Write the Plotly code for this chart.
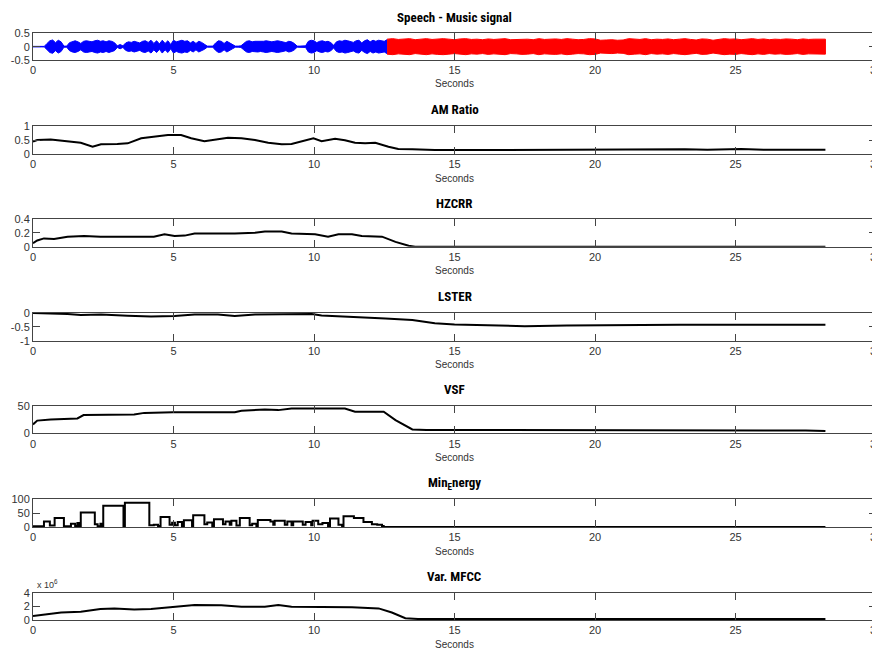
import plotly.graph_objects as go

# ---------------- data ----------------
# Speech part (blue): amplitude envelope sampled every 0.1 s from 0.0 s
speech_t0 = 0.0
speech_dt = 0.1
speech_env = [0.01, 0.01, 0.01, 0.01, 0.01,
              0.12, 0.22, 0.25, 0.15, 0.24, 0.18,
              0.02, 0.02,
              0.15, 0.20, 0.22, 0.18, 0.12, 0.20, 0.22, 0.20, 0.18, 0.22, 0.24, 0.20, 0.22, 0.18, 0.22, 0.20, 0.15,
              0.03, 0.08, 0.03,
              0.14, 0.18, 0.16, 0.20, 0.18, 0.14, 0.20, 0.22, 0.16, 0.24, 0.12, 0.22, 0.10, 0.24, 0.12, 0.22, 0.08,
              0.24, 0.18, 0.22, 0.24, 0.20, 0.22, 0.14, 0.20, 0.12, 0.20, 0.16, 0.10,
              0.02, 0.02, 0.02,
              0.14, 0.22, 0.20, 0.12, 0.20, 0.15, 0.08,
              0.02, 0.02, 0.03,
              0.12, 0.20, 0.22, 0.18, 0.20, 0.20, 0.18, 0.20, 0.22, 0.20, 0.18, 0.20, 0.22, 0.20, 0.18, 0.15, 0.20, 0.18, 0.12,
              0.02, 0.02, 0.02, 0.03,
              0.20, 0.24, 0.22, 0.15, 0.20, 0.22, 0.18, 0.20, 0.15, 0.05, 0.18, 0.22, 0.20, 0.24, 0.22, 0.20, 0.16,
              0.22, 0.24, 0.14, 0.22, 0.26, 0.18, 0.24, 0.20, 0.24, 0.22, 0.20, 0.26]

# Music part (red): amplitude envelope sampled every 0.2 s from 12.6 s
music_t0 = 12.6
music_dt = 0.2
music_env = [0.28, 0.30, 0.27, 0.29, 0.30, 0.26, 0.28, 0.30, 0.27, 0.29,
             0.30, 0.28, 0.26, 0.29, 0.30, 0.27, 0.28, 0.26, 0.29, 0.27,
             0.28, 0.30, 0.26, 0.27, 0.29, 0.28, 0.26, 0.30, 0.27, 0.28,
             0.29, 0.27, 0.30, 0.28, 0.26, 0.27, 0.30, 0.29, 0.24, 0.25,
             0.26, 0.24, 0.25, 0.30, 0.28, 0.27, 0.30, 0.26, 0.28, 0.27,
             0.29, 0.26, 0.28, 0.30, 0.27, 0.25, 0.29, 0.28, 0.24, 0.26,
             0.30, 0.28, 0.29, 0.26, 0.28, 0.30, 0.27, 0.29, 0.26, 0.28,
             0.27, 0.29, 0.28, 0.26, 0.29, 0.27, 0.28, 0.27, 0.28]

am_t = [0, 0.15, 0.63, 1.23, 1.7, 2.12, 2.42, 3.0, 3.37, 3.85, 4.32, 4.8, 5.27, 5.63, 6.1, 6.46,
        6.94, 7.42, 7.9, 8.37, 8.85, 9.2, 9.56, 9.98, 10.27, 10.75, 11.1, 11.46, 11.82, 12.18,
        12.65, 13.0, 13.5, 14.3, 16.0, 18.0, 19.5, 21.0, 22.5, 23.2, 24.0, 25.2, 26.0, 27.0, 28.2]
am_v = [0.44, 0.50, 0.52, 0.44, 0.40, 0.26, 0.35, 0.36, 0.38, 0.56, 0.62, 0.68, 0.68, 0.56, 0.46, 0.51,
        0.58, 0.56, 0.50, 0.40, 0.35, 0.36, 0.46, 0.56, 0.46, 0.54, 0.49, 0.40, 0.38, 0.40,
        0.26, 0.18, 0.17, 0.14, 0.14, 0.15, 0.14, 0.15, 0.15, 0.17, 0.15, 0.18, 0.15, 0.15, 0.15]

hz_t = [0, 0.15, 0.39, 0.75, 1.23, 1.82, 2.4, 4.3, 4.68, 5.04, 5.4, 5.75, 7.18, 7.9, 8.25, 8.85,
        9.2, 10.04, 10.5, 10.87, 11.35, 11.7, 12.42, 12.9, 13.37, 13.6, 28.2]
hz_v = [0.05, 0.09, 0.12, 0.11, 0.145, 0.155, 0.145, 0.145, 0.18, 0.155, 0.16, 0.19, 0.19, 0.20, 0.22, 0.22,
        0.19, 0.18, 0.145, 0.18, 0.18, 0.155, 0.145, 0.07, 0.015, 0.0, 0.0]

lster_t = [0, 0.5, 1.23, 1.7, 2.42, 3.37, 4.2, 5.04, 5.75, 6.58, 7.18, 7.9, 8.96, 9.92, 10.27,
           11.35, 12.54, 13.5, 14.3, 15.0, 16.0, 17.5, 19.0, 20.5, 23.0, 26.0, 28.2]
lster_v = [-0.01, -0.02, -0.05, -0.08, -0.06, -0.11, -0.14, -0.12, -0.06, -0.06, -0.12, -0.06, -0.05, -0.05, -0.10,
           -0.14, -0.21, -0.26, -0.38, -0.42, -0.45, -0.48, -0.46, -0.44, -0.43, -0.43, -0.43]

vsf_t = [0, 0.15, 0.63, 1.58, 1.8, 3.6, 3.96, 4.98, 7.18, 7.42, 8.25, 8.73, 9.2, 11.1, 11.46,
         12.48, 12.9, 13.5, 14.0, 17.0, 20.0, 24.0, 27.5, 28.2]
vsf_v = [16, 23, 25, 27, 33, 34, 37, 38, 38, 41, 43, 42, 45, 45, 39,
         39, 24, 7, 6, 6, 6, 6, 5, 4]

minE_t = [0, 0.39, 0.6, 0.77, 1.1, 1.35, 1.5, 1.58, 1.65, 1.7, 2.2, 2.3, 2.4, 2.46, 2.5, 3.22, 3.27,
          4.14, 4.3, 4.45, 4.54, 4.86, 4.95, 5.05, 5.15, 5.3, 5.37, 5.66, 5.7, 6.1, 6.2, 6.38, 6.44,
          6.76, 6.85, 7.0, 7.06, 7.24, 7.36, 7.71, 7.8, 7.95, 8.0, 8.45, 8.55, 8.6, 8.96, 9.05, 9.2,
          9.26, 9.6, 9.7, 9.9, 9.95, 10.15, 10.3, 10.5, 10.57, 10.87, 11.0, 11.05, 11.42, 11.76,
          12.06, 12.25, 12.42, 12.48, 28.2]
minE_v = [3, 20, 5, 32, 3, 12, 4, 14, 3, 52, 10, 3, 12, 3, 76, 3, 87,
          6, 8, 4, 36, 8, 15, 6, 18, 4, 24, 4, 42, 10, 16, 4, 28,
          10, 20, 8, 22, 5, 32, 6, 12, 4, 25, 20, 8, 22, 8, 20, 6,
          20, 8, 18, 6, 22, 10, 14, 4, 30, 8, 4, 38, 32, 18,
          10, 8, 4, 0, 0]

mfcc_t = [0, 0.4, 1.0, 1.7, 2.4, 2.9, 3.6, 4.2, 5.04, 5.75, 6.7, 7.42, 8.25, 8.73, 9.2, 10.15,
          11.35, 12.3, 12.77, 13.25, 13.7, 20.0, 28.2]
mfcc_v = [0.6, 0.83, 1.1, 1.2, 1.6, 1.7, 1.55, 1.6, 1.95, 2.2, 2.15, 1.95, 1.95, 2.2, 1.95, 1.95,
          1.85, 1.7, 1.1, 0.25, 0.15, 0.15, 0.15]

titles = ["Speech - Music signal", "AM Ratio", "HZCRR", "LSTER", "VSF",
          "Min<sub>E</sub>nergy", "Var. MFCC"]
y_ranges = [[-0.5, 0.5], [0, 1], [0, 0.4], [-1, 0], [0, 50], [0, 100], [0, 4]]
y_ticks = [[-0.5, 0, 0.5], [0, 0.5, 1], [0, 0.2, 0.4], [-1, -0.5, 0], [0, 50], [0, 50, 100], [0, 2, 4]]
y_ticktext = [["-0.5", "0", "0.5"], ["0", "0.5", "1"], ["0", "0.2", "0.4"], ["-1", "-0.5", "0"],
              ["0", "50"], ["0", "50", "100"], ["0", "2", "4"]]
x_ticks = [0, 5, 10, 15, 20, 25, 30]

# ---------------- layout geometry ----------------
# the page body adds an 8 px offset; positions below are screen pixels
OFF = 8
W, H = 880 - OFF, 653 - OFF
ML, MR = 32.5 - OFF, 4
PW = W - ML - MR
tops = [v - OFF for v in [33.3, 126, 219, 312.7, 405.7, 499, 592.7]]
bots = [v - OFF for v in [60, 154, 246.7, 340.7, 433.3, 527, 620]]

fig = go.Figure()


def ax(i):
    return "" if i == 0 else str(i + 1)


sp_t = [round(speech_t0 + k * speech_dt, 2) for k in range(len(speech_env))]
fig.add_trace(go.Scatter(x=sp_t + sp_t[::-1], y=speech_env + [-v for v in speech_env[::-1]],
                         fill="toself", fillcolor="#0000ff", mode="lines",
                         line=dict(color="#0000ff", width=1), xaxis="x", yaxis="y",
                         hoverinfo="skip", showlegend=False))
mu_t = [round(music_t0 + k * music_dt, 2) for k in range(len(music_env))]
fig.add_trace(go.Scatter(x=mu_t + mu_t[::-1], y=music_env + [-v for v in music_env[::-1]],
                         fill="toself", fillcolor="#ff0000", mode="lines",
                         line=dict(color="#ff0000", width=1), xaxis="x", yaxis="y",
                         hoverinfo="skip", showlegend=False))

series = [(am_t, am_v, "linear"), (hz_t, hz_v, "linear"), (lster_t, lster_v, "linear"),
          (vsf_t, vsf_v, "linear"), (minE_t, minE_v, "hv"), (mfcc_t, mfcc_v, "linear")]
for k, (tx, vy, shape) in enumerate(series):
    i = k + 1
    fig.add_trace(go.Scatter(x=tx, y=vy, mode="lines", line=dict(color="black", width=2, shape=shape),
                             xaxis="x" + ax(i), yaxis="y" + ax(i), showlegend=False))

layout = dict(width=W, height=H, margin=dict(l=ML, r=MR, t=0, b=0, autoexpand=False),
              paper_bgcolor="white", plot_bgcolor="white", showlegend=False)

tick_font = dict(family="Liberation Sans, Arial, sans-serif", size=11, color="#333333")
annotations = []
for i in range(7):
    s = ax(i)
    layout["xaxis" + s] = dict(domain=[0, 1], range=[0, 30], tickvals=x_ticks,
                               ticks="inside", ticklen=7, tickcolor="#444444", showline=True,
                               linecolor="#444444", linewidth=1, mirror="ticks", showgrid=False,
                               zeroline=False, anchor="y" + s, tickfont=tick_font, fixedrange=True,
                               automargin=False, ticklabeloverflow="allow")
    layout["yaxis" + s] = dict(domain=[1 - bots[i] / H, 1 - tops[i] / H], range=y_ranges[i],
                               tickvals=y_ticks[i], ticktext=y_ticktext[i],
                               ticks="inside", ticklen=7, tickcolor="#444444", showline=True,
                               linecolor="#444444", linewidth=1, mirror="ticks", showgrid=False,
                               zeroline=False, anchor="x" + s, tickfont=tick_font, fixedrange=True,
                               automargin=False, ticklabeloverflow="allow")
    annotations.append(dict(x=0.5, y=1 - (tops[i] - 16) / H, xref="paper", yref="paper",
                            text="<b>" + titles[i] + "</b>", showarrow=False,
                            font=dict(family="Liberation Sans Narrow, Arial Narrow, Roboto Condensed, Liberation Sans",
                                      size=13, color="black"),
                            xanchor="center", yanchor="middle"))
    annotations.append(dict(x=0.5, y=1 - (bots[i] + 24) / H, xref="paper", yref="paper",
                            text="Seconds", showarrow=False,
                            font=dict(family="Liberation Sans, Arial, sans-serif", size=10, color="#333333"),
                            xanchor="center", yanchor="middle"))

annotations.append(dict(x=2 / PW, y=1 - (tops[6] - 9) / H, xref="paper", yref="paper",
                        text="x 10<sup>6</sup>", showarrow=False,
                        font=dict(family="Liberation Sans, Arial, sans-serif", size=9, color="#333333"),
                        xanchor="left", yanchor="middle"))
layout["annotations"] = annotations
fig.update_layout(**layout)

fig.write_html("out.html")
